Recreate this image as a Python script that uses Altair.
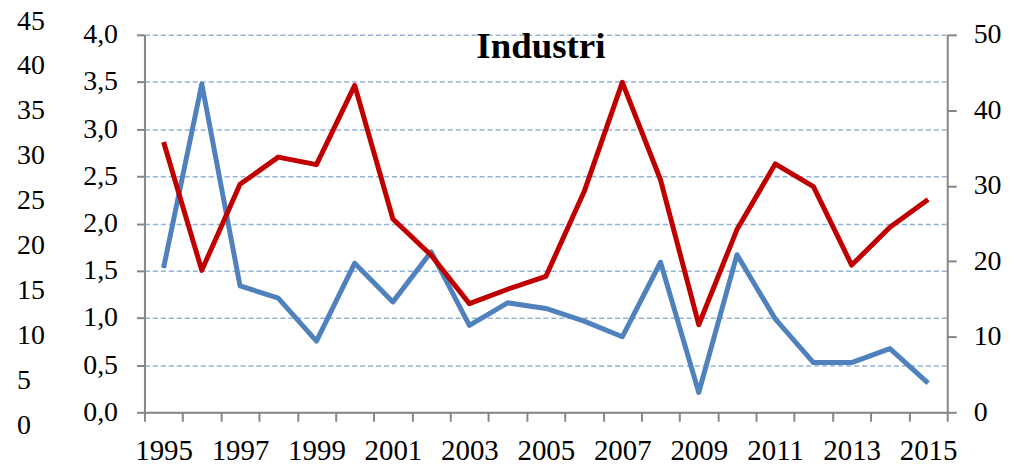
import altair as alt
import pandas as pd

years = list(range(1995, 2016))
blue_vals = [1.53, 3.48, 1.34, 1.21, 0.755, 1.58, 1.17, 1.70, 0.92, 1.16, 1.10,
             0.966, 0.80, 1.59, 0.21, 1.67, 0.99, 0.527, 0.527, 0.675, 0.31]
red_vals = [35.8, 18.8, 30.2, 33.8, 32.8, 43.3, 25.6, 20.8, 14.4, 16.3, 18.0,
            29.2, 43.7, 30.8, 11.6, 24.2, 32.9, 29.9, 19.5, 24.5, 28.2]
outer_ticks = [0, 5, 10, 15, 20, 25, 30, 35, 40, 45]
title_text = ["Industri"]

FONT = "Liberation Serif"
GRAY = "#868686"

df_blue = pd.DataFrame({"year": years, "v": blue_vals})
df_red = pd.DataFrame({"year": years, "v": red_vals})
df_outer = pd.DataFrame({"t": outer_ticks})
df_title = pd.DataFrame({"t": title_text})

x_enc = alt.X(
    "year:O",
    bandPosition=0.5,
    scale=alt.Scale(type="band", paddingInner=0, paddingOuter=0),
    axis=alt.Axis(
        title=None, labelAngle=0, tickBand="extent", grid=False,
        labelExpr="datum.value % 2 == 1 ? datum.label : ''",
        labelFont=FONT, labelFontSize=29, labelColor="black",
        labelPadding=15, tickSize=9, tickColor=GRAY, tickWidth=2,
        domainColor=GRAY, domainWidth=2,
    ),
)

blue = alt.Chart(df_blue).mark_line(
    color="#4f81bd", strokeWidth=5, strokeJoin="round"
).encode(
    x=x_enc,
    y=alt.Y(
        "v:Q",
        scale=alt.Scale(domain=[0, 4], nice=False, zero=True),
        axis=alt.Axis(
            title=None, orient="left", values=[0, 0.5, 1, 1.5, 2, 2.5, 3, 3.5, 4],
            labelExpr="replace(format(datum.value, '.1f'), '.', ',')",
            labelFont=FONT, labelFontSize=28, labelColor="black",
            labelPadding=19, tickSize=8, tickColor=GRAY, tickWidth=2,
            domainColor=GRAY, domainWidth=2,
            grid=True, gridColor="#95b3d7", gridDash=[5, 3], gridWidth=1.5,
        ),
    ),
)

red = alt.Chart(df_red).mark_line(
    color="#c00000", strokeWidth=5, strokeJoin="round"
).encode(
    x=x_enc,
    y=alt.Y(
        "v:Q",
        scale=alt.Scale(domain=[0, 50], nice=False, zero=True),
        axis=alt.Axis(
            title=None, orient="right", values=[0, 10, 20, 30, 40, 50],
            labelFont=FONT, labelFontSize=28, labelColor="black",
            labelPadding=17, tickSize=9, tickColor=GRAY, tickWidth=2,
            domainColor=GRAY, domainWidth=2, grid=False,
        ),
    ),
)

outer = alt.Chart(df_outer).mark_text(
    font=FONT, fontSize=28, color="black", align="left", baseline="middle", clip=False
).encode(
    x=alt.value(-128),
    y=alt.Y("t:Q", scale=alt.Scale(domain=[1.52, 43.53], nice=False, zero=False), axis=None),
    text=alt.Text("t:Q"),
)

title = alt.Chart(df_title).mark_text(
    font=FONT, fontSize=37, fontWeight="bold", color="black",
    align="center", baseline="alphabetic",
).encode(
    x=alt.value(398),
    y=alt.value(23),
    text="t:N",
)

chart = alt.layer(blue, red, outer, title).resolve_scale(y="independent").properties(
    width=806,
    height=379,
    autosize=alt.AutoSizeParams(type="none"),
    padding={"left": 137, "top": 26, "right": 60, "bottom": 53},
).configure_view(stroke=None)

chart.save("out.html", embed_options={"renderer": "svg", "actions": False})
